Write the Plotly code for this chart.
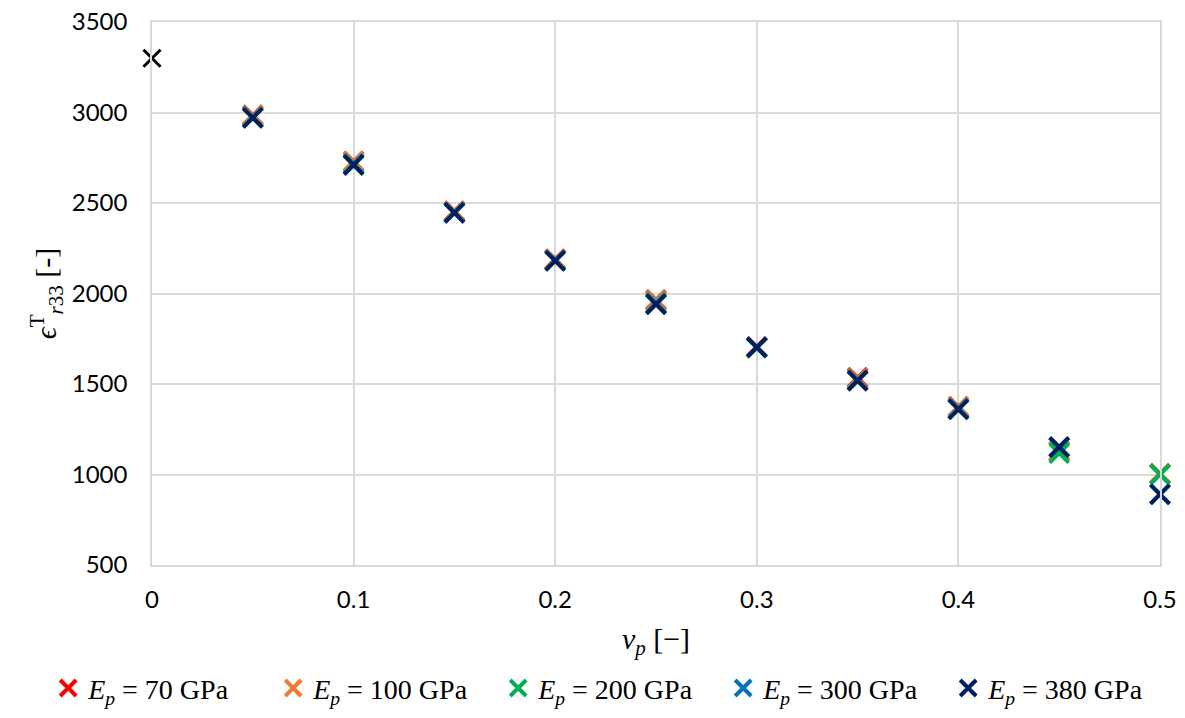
import plotly.graph_objects as go

nu = [0.05, 0.1, 0.15, 0.2, 0.25, 0.3, 0.35, 0.4, 0.45, 0.5]
eps_70 = [2985, 2730, 2455, 2190, 1965, 1705, 1535, 1375, 1130, 1005]
eps_100 = [2982, 2728, 2453, 2188, 1960, 1704, 1530, 1372, 1128, 1005]
eps_200 = [2975, 2718, 2448, 2183, 1950, 1700, 1522, 1365, 1118, 1000]
eps_300 = [2972, 2714, 2446, 2182, 1945, 1702, 1520, 1362, 1150, 892]
eps_380 = [2970, 2710, 2445, 2180, 1940, 1703, 1518, 1360, 1152, 890]
nu0 = [0.0]
eps0 = [3300]
x_ticks = [0, 0.1, 0.2, 0.3, 0.4, 0.5]
x_tick_labels = ["0", "0.1", "0.2", "0.3", "0.4", "0.5"]
y_ticks = [500, 1000, 1500, 2000, 2500, 3000, 3500]

series = [
    ("<i>E<sub>p</sub></i> = 70 GPa", eps_70, "#FF0000"),
    ("<i>E<sub>p</sub></i> = 100 GPa", eps_100, "#ED7D31"),
    ("<i>E<sub>p</sub></i> = 200 GPa", eps_200, "#00B050"),
    ("<i>E<sub>p</sub></i> = 300 GPa", eps_300, "#0070C0"),
    ("<i>E<sub>p</sub></i> = 380 GPa", eps_380, "#002060"),
]

fig = go.Figure()
fig.add_trace(go.Scatter(x=nu0, y=eps0, mode="markers", showlegend=False, cliponaxis=False,
                         marker=dict(symbol="x-thin", size=17, line=dict(width=3, color="#000000"))))
for name, vals, col in series:
    fig.add_trace(go.Scatter(x=nu, y=vals, mode="markers", name=name, cliponaxis=False,
                             marker=dict(symbol="x-thin", size=19, color=col,
                                         line=dict(width=4, color=col))))

fig.update_layout(
    width=1177, height=710,
    paper_bgcolor="white", plot_bgcolor="white",
    margin=dict(l=144, r=25, t=14, b=153, autoexpand=False),
    font=dict(family="Lato", size=24, color="#000000"),
    legend=dict(orientation="h", x=-0.103, xanchor="left", y=-0.227, yanchor="middle",
                font=dict(family="Liberation Serif", size=28), itemwidth=30,
                entrywidth=180, entrywidthmode="pixels", tracegroupgap=0),
)
fig.update_xaxes(range=[0, 0.5], tickvals=x_ticks, ticktext=x_tick_labels, automargin=False,
                 showgrid=True, gridcolor="#D9D9D9", ticklabeloverflow="allow",
                 gridwidth=1.5, zeroline=False, showline=True, mirror=True,
                 linecolor="#D9D9D9", linewidth=1.5, ticks="", ticklabelstandoff=12,
                 title=dict(text="<i>v<sub>p</sub></i> [−]", font=dict(family="Liberation Serif", size=30), standoff=16))
fig.update_yaxes(range=[500, 3500], tickvals=y_ticks, showgrid=True, gridcolor="#D9D9D9", automargin=False,
                 gridwidth=1.5, zeroline=False, showline=True, mirror=True, ticklabeloverflow="allow",
                 linecolor="#D9D9D9", linewidth=1.5, ticks="", ticklabelstandoff=18,
                 title=dict(text="<i>ϵ</i><sup>T</sup><sub><i>r</i>33</sub> [-]",
                            font=dict(family="Liberation Serif", size=30), standoff=6))

fig.write_html("out.html")
